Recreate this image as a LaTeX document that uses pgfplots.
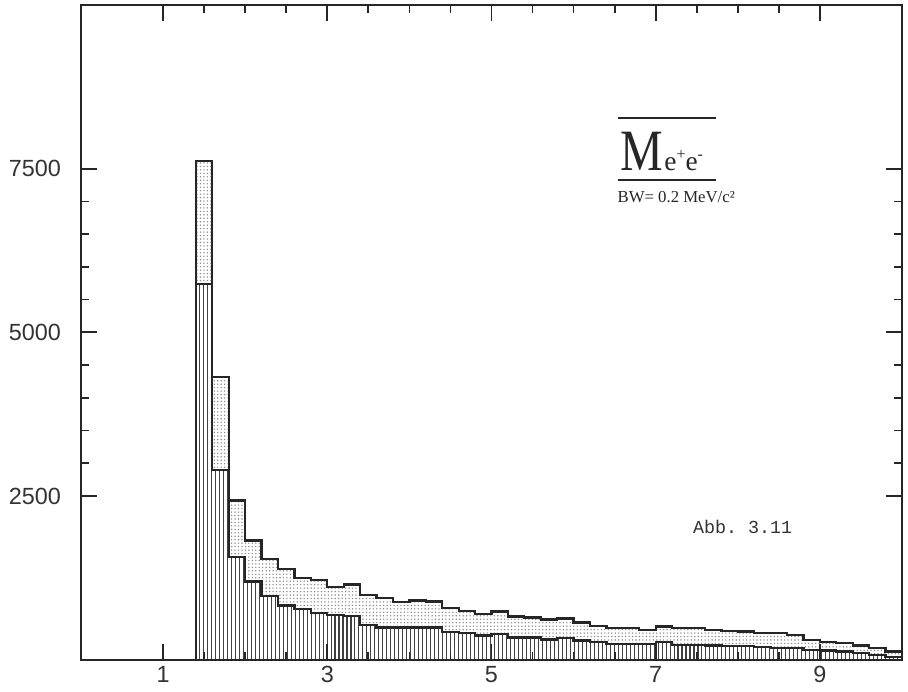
\documentclass[border=0pt]{standalone}
\usepackage{fontspec}
\setmainfont{Liberation Serif}
\setsansfont{Liberation Sans}
\setmonofont{Liberation Mono}
\usepackage{pgfplots}
\usepackage{pgfplotstable}
\pgfplotsset{compat=1.18}
\usetikzlibrary{patterns.meta}

% bins of 0.2, left edges; last row repeats the last bin to close the step
\pgfplotstableread{
x    outer inner
1.4  7620  5740
1.6  4320  2900
1.8  2430  1573
2.0  1820  1192
2.2  1535  978
2.4  1390  826
2.6  1250  774
2.8  1215  709
3.0  1105  683
3.2  1150  668
3.4  990   530
3.6  937   490
3.8  876   490
4.0  902   490
4.2  887   490
4.4  785   425
4.6  744   409
4.8  693   369
5.0  734   389
5.2  658   338
5.4  643   338
5.6  612   308
5.8  630   328
6.0  567   293
6.2  515   267
6.4  480   236
6.6  480   236
6.8  454   236
7.0  506   267
7.2  480   225
7.4  480   220
7.6  454   215
7.8  435   210
8.0  432   205
8.2  404   190
8.4  404   180
8.6  375   175
8.8  305   150
9.0  265   140
9.2  255   125
9.4  215   99
9.6  180   73
9.8  125   38
10.0 125   38
}\mee

\begin{document}
\begin{tikzpicture}
\begin{axis}[
  scale only axis, width=308.8pt, height=246.2pt,
  xmin=0, xmax=10, ymin=0, ymax=10000,
  xtick={1,3,5,7,9}, minor x tick num=3,
  ytick={2500,5000,7500}, yticklabels={2500,5000,7500}, minor y tick num=4,
  scaled y ticks=false,
  tick align=inside, tick pos=both,
  major tick length=6pt, minor tick length=3pt,
  axis line style={black!85, line width=0.85pt},
  every tick/.style={black!85, line width=0.65pt},
  tick label style={font=\sffamily\fontsize{8.8}{10}\selectfont, text=black!80},
  /pgf/number format/assume math mode=true,
  yticklabel style={xshift=-4pt},
  xticklabel style={yshift=1pt},
  axis on top, clip=false,
]
\addplot[const plot, draw=black!85, line width=0.85pt,
  pattern color=black!45, pattern={Dots[distance=1.3pt, radius=0.3pt]}]
  table[x=x, y=outer]{\mee} \closedcycle;
\addplot[const plot, draw=black!85, line width=0.85pt, fill=white,
  postaction={pattern color=black!75, pattern={Lines[angle=90, distance=1.5pt, line width=0.4pt]}}]
  table[x=x, y=inner]{\mee} \closedcycle;

\draw[black!85, line width=0.8pt] (axis cs:6.54,8268) -- (axis cs:7.73,8268);
\draw[black!85, line width=0.8pt] (axis cs:6.54,7323) -- (axis cs:7.73,7323);
\node[anchor=base west, inner sep=0, xscale=0.82, text=black!85] at (axis cs:6.57,7475)
  {\fontsize{22}{22}\selectfont M};
\node[anchor=base west, inner sep=0, text=black!85] at (axis cs:7.10,7475)
  {\fontsize{10.3}{11}\selectfont e\raisebox{0.4em}{\fontsize{6}{6}\selectfont +}e\raisebox{0.4em}{\fontsize{6}{6}\selectfont -}};
\node[inner sep=0, text=black!85] at (axis cs:7.25,7064)
  {\fontsize{6.3}{7}\selectfont BW= 0.2 MeV/c²};
\node[inner sep=0, text=black!80] at (axis cs:8.06,2035)
  {\ttfamily\fontsize{6.9}{8}\selectfont Abb. 3.11};
\end{axis}
\path ([shift={(-29.4pt,-8.1pt)}]current axis.south west)
  rectangle ([shift={(2.25pt,1.9pt)}]current axis.north east);
\end{tikzpicture}
\end{document}
